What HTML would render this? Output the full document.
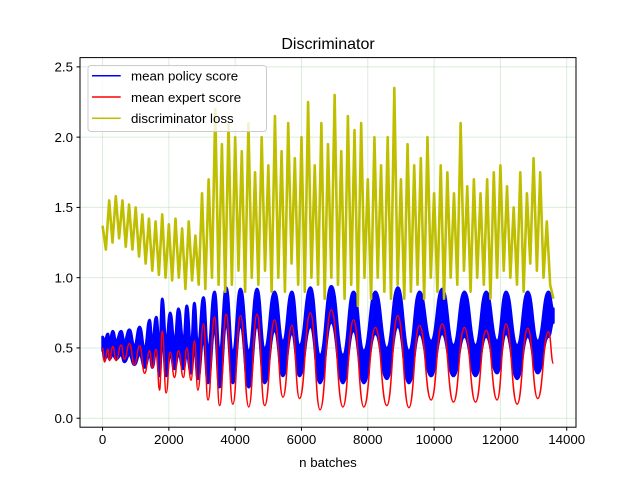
<!DOCTYPE html>
<html><head><meta charset="utf-8"><style>
body{margin:0;background:#fff}
svg{display:block;font-family:"Liberation Sans","DejaVu Sans",sans-serif}
</style></head><body>
<svg id="chart" width="640" height="480" viewBox="0 0 640 480">
<rect width="640" height="480" fill="#fff"/>
<text x="328" y="49" text-anchor="middle" font-size="16" fill="#000">Discriminator</text>
<g id="grid"></g>
<g id="series"></g>
<rect x="80" y="57.6" width="496" height="369.6" fill="none" stroke="#000" stroke-width="1"/>
<g id="axes"></g>
<text x="328" y="467" text-anchor="middle" font-size="13.3">n batches</text>
<g>
<rect x="88" y="65.5" width="178.5" height="66" rx="3" fill="#fff" fill-opacity="0.8" stroke="#ccc"/>
<g><line x1="92" y1="75.7" x2="120.7" y2="75.7" stroke="#0000ff" stroke-width="1.5"/><text x="131" y="80.5" font-size="13.3">mean policy score</text></g>
<g><line x1="92" y1="97" x2="120.7" y2="97" stroke="#ff0000" stroke-width="1.5"/><text x="131" y="101.8" font-size="13.3">mean expert score</text></g>
<g><line x1="92" y1="118.3" x2="120.7" y2="118.3" stroke="#bfbf00" stroke-width="1.5"/><text x="131" y="123.1" font-size="13.3">discriminator loss</text></g>
</g>
</svg>
<script>
const xTicks=[0,2000,4000,6000,8000,10000,12000,14000];
const yTicks=[0.0,0.5,1.0,1.5,2.0,2.5];
const extX=[0,60,160,210,310,410,560,660,810,960,1120,1270,1420,1500,1620,1720,1800,1920,2040,2170,2290,2440,2540,2670,2770,2875,3045,3180,3380,3530,3730,3930,4160,4410,4660,4890,5190,5440,5710,5940,6270,6560,6900,7250,7570,7880,8230,8575,8905,9240,9560,9910,10245,10585,10915,11250,11570,11900,12170,12505,12825,13125,13450,13600];
const expertScore=[0.50,0.40,0.49,0.41,0.51,0.41,0.52,0.42,0.53,0.38,0.515,0.32,0.48,0.36,0.49,0.20,0.62,0.18,0.47,0.29,0.48,0.29,0.50,0.27,0.55,0.20,0.67,0.13,0.72,0.09,0.74,0.10,0.73,0.08,0.74,0.09,0.70,0.15,0.66,0.14,0.75,0.06,0.77,0.08,0.70,0.08,0.645,0.09,0.73,0.075,0.66,0.13,0.67,0.115,0.645,0.115,0.625,0.13,0.67,0.10,0.64,0.14,0.615,0.39];
const policyHigh=[0.58,0.55,0.60,0.55,0.62,0.55,0.62,0.55,0.63,0.52,0.65,0.50,0.70,0.55,0.72,0.52,0.85,0.55,0.75,0.55,0.78,0.55,0.80,0.52,0.82,0.52,0.86,0.50,0.90,0.48,0.93,0.48,0.92,0.48,0.92,0.50,0.90,0.55,0.90,0.52,0.93,0.45,0.94,0.45,0.90,0.48,0.90,0.50,0.93,0.48,0.90,0.55,0.92,0.52,0.90,0.52,0.90,0.55,0.90,0.52,0.90,0.55,0.90,0.78];
const policyLow=[0.48,0.42,0.45,0.42,0.45,0.42,0.45,0.40,0.45,0.38,0.45,0.36,0.45,0.36,0.48,0.30,0.55,0.30,0.45,0.35,0.45,0.35,0.45,0.32,0.50,0.28,0.55,0.25,0.62,0.22,0.65,0.25,0.65,0.22,0.65,0.25,0.62,0.30,0.60,0.30,0.65,0.25,0.68,0.25,0.62,0.25,0.60,0.28,0.65,0.25,0.60,0.30,0.60,0.30,0.58,0.30,0.58,0.32,0.60,0.28,0.58,0.32,0.58,0.68];
const lossStep=100;
const lossValues=[1.37,1.20,1.55,1.25,1.58,1.28,1.55,1.22,1.52,1.20,1.50,1.15,1.45,1.10,1.42,1.05,1.40,1.02,1.45,1.00,1.38,0.98,1.42,1.00,1.35,0.92,1.40,0.98,1.30,0.95,1.60,0.92,1.70,1.00,2.20,0.95,1.95,0.90,2.10,0.95,2.00,1.05,1.90,0.90,2.10,1.00,1.75,0.95,2.00,1.05,1.80,0.90,2.15,1.00,1.90,0.90,2.10,1.10,1.85,0.95,2.00,0.90,2.25,1.00,1.80,0.95,2.10,0.85,1.95,1.00,2.30,0.95,1.90,0.85,2.15,0.95,2.05,0.80,2.10,1.00,1.70,0.85,2.00,1.00,1.80,0.90,2.00,0.85,2.35,0.95,1.70,0.85,1.95,0.90,1.80,0.95,1.85,0.85,2.00,1.00,1.60,0.90,1.80,0.85,1.75,1.00,1.60,0.95,2.10,1.05,1.65,0.90,1.70,1.00,1.60,0.95,1.70,0.85,1.75,1.00,1.80,1.05,1.65,1.00,1.50,0.95,1.75,0.90,1.60,1.10,1.85,1.05,1.75,1.00,1.40,0.95,0.85];

const NS="http://www.w3.org/2000/svg";
const X0=80,X1=576,Y0=427.2,Y1=57.6;
const xmin=-680,xmax=14280,ymin=-0.064,ymax=2.566;
const sx=v=>X0+(v-xmin)/(xmax-xmin)*(X1-X0);
const sy=v=>Y0-(v-ymin)/(ymax-ymin)*(Y0-Y1);
function mk(tag,attrs,parent){const e=document.createElementNS(NS,tag);for(const k in attrs)e.setAttribute(k,attrs[k]);parent.appendChild(e);return e;}
const grid=document.getElementById('grid'),axes=document.getElementById('axes'),series=document.getElementById('series');
xTicks.forEach(t=>{const x=sx(t);
 const g=mk('line',{x1:x,x2:x,y1:Y1,y2:Y0,stroke:'#b0d8b0','stroke-opacity':0.45,'stroke-width':1},grid);
 
 
 const tk=mk('line',{x1:x,x2:x,y1:Y0,y2:Y0+3.5,stroke:'#000'},axes);
 
 
 const tx=mk('text',{x:x,y:Y0+17,'text-anchor':'middle','font-size':13.3},axes);tx.textContent=String(t);
 
 
});
yTicks.forEach(t=>{const y=sy(t);
 const g=mk('line',{x1:X0,x2:X1,y1:y,y2:y,stroke:'#b0d8b0','stroke-opacity':0.45,'stroke-width':1},grid);
 
 
 const tk=mk('line',{x1:X0-3.5,x2:X0,y1:y,y2:y,stroke:'#000'},axes);
 
 
 const tx=mk('text',{x:X0-7,y:y+4.8,'text-anchor':'end','font-size':13.3},axes);tx.textContent=t.toFixed(1);
 
 
});
function smooth(xs,ys,start){let d=start?'M':'L';d+=sx(xs[0]).toFixed(2)+','+sy(ys[0]).toFixed(2);
 for(let i=1;i<xs.length;i++){const xa=sx(xs[i-1]),xb=sx(xs[i]),m=(xa+xb)/2;
  d+=` C${m.toFixed(2)},${sy(ys[i-1]).toFixed(2)} ${m.toFixed(2)},${sy(ys[i]).toFixed(2)} ${xb.toFixed(2)},${sy(ys[i]).toFixed(2)}`;}
 return d;}
const revX=extX.slice().reverse(),revLo=policyLow.slice().reverse();
const band=mk('path',{d:smooth(extX,policyHigh,true)+' '+smooth(revX,revLo,false)+' Z',fill:'#0000ff',stroke:'#0000ff','stroke-width':2.5,'stroke-linejoin':'round'},series);


const red=mk('path',{d:smooth(extX,expertScore,true),fill:'none',stroke:'#ff0000','stroke-width':1.5},series);


let ld='';lossValues.forEach((v,i)=>{ld+=(i?'L':'M')+sx(i*lossStep).toFixed(2)+','+sy(v).toFixed(2);});
const yl=mk('path',{d:ld,fill:'none',stroke:'#bfbf00','stroke-width':2.6,'stroke-linejoin':'round'},series);


</script>
</body></html>
